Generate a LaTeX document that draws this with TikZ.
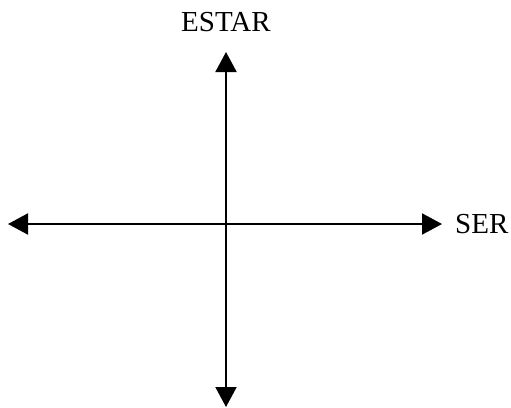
\documentclass[tikz,border=0pt]{standalone}
\usepackage{fontspec}
\setmainfont{Liberation Serif}
\usetikzlibrary{arrows.meta, positioning}

\begin{document}
\begin{tikzpicture}[x=1pt, y=-1pt,
    axis/.style={line width=2pt, black, {Triangle[length=20pt, width=21pt]}-{Triangle[length=20pt, width=21pt]}},
    axislabel/.style={font=\fontsize{29}{32}\selectfont, inner sep=0pt}]
    \useasboundingbox (0,0) rectangle (511,407);

    % 1. Các điểm đầu mút của hai trục
    \coordinate (left) at (8, 224);
    \coordinate (right) at (442, 224);
    \coordinate (top) at (226, 52);
    \coordinate (bottom) at (226, 407);

    % 2. Hai trục có mũi tên ở hai đầu
    \draw[axis] (left) -- (right);
    \draw[axis] (bottom) -- (top);

    % 3. Nhãn của các trục
    \node[axislabel] (estar) at (226, 22) {ESTAR};
    \node[axislabel, anchor=west] (ser) at (455, 224) {SER};

\end{tikzpicture}
\end{document}
